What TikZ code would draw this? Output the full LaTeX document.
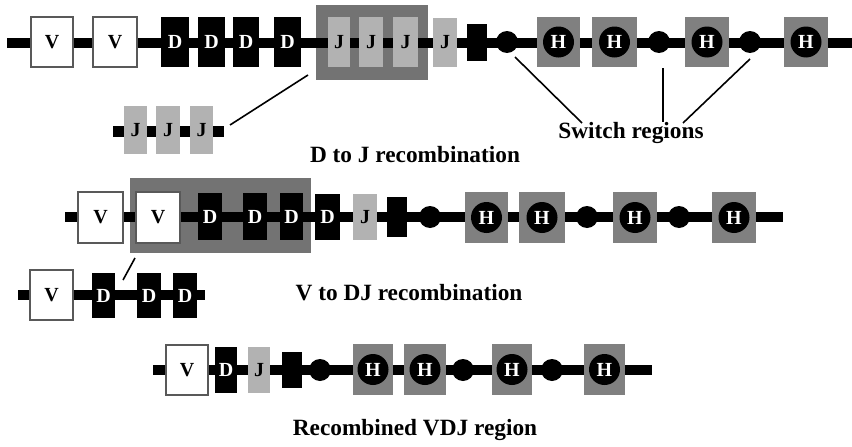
\documentclass[tikz,border=0pt]{standalone}
\usepackage{fontspec}
\setmainfont{Liberation Serif}
\begin{document}
\begin{tikzpicture}[x=1pt,y=-1pt,
  letter/.style={font=\bfseries\fontsize{20}{20}\selectfont, inner sep=0pt},
  vbox/.style={letter, draw=black!65, line width=1.2pt, fill=white, minimum height=50, text=black},
  dbox/.style={letter, fill=black, text=white, minimum height=48},
  jbox/.style={letter, fill=black!30, text=black, minimum height=48},
  blk/.style={fill=black, inner sep=0pt, minimum width=20, minimum height=37},
  swc/.style={circle, fill=black, inner sep=0pt, minimum size=22},
  hbox/.style={letter, fill=black!50, text=white, minimum height=50,
     path picture={\fill[black] (path picture bounding box.center) circle (15.5);}},
  grp/.style={fill=black!55, inner sep=0pt},
  backbone/.style={line width=10.5pt, black},
  conn/.style={line width=1.6pt, black},
  lab/.style={font=\bfseries\fontsize{23.3}{23.3}\selectfont, inner sep=0pt}
]
\useasboundingbox (0,0) rectangle (852,447);
% ---------- Row 1 ----------
\node[grp, minimum width=112, minimum height=75] (g1) at (372,42.5) {};
\coordinate (r1a) at (7,43); \coordinate (r1b) at (852,43);
\draw[backbone] (r1a) -- (r1b);
\node[vbox, minimum width=42] (v11) at (52,42) {V};
\node[vbox, minimum width=44] (v12) at (115,42) {V};
\node[dbox, minimum width=28, minimum height=50] (d11) at (175,42) {D};
\node[dbox, minimum width=27, minimum height=50] (d12) at (211.5,42) {D};
\node[dbox, minimum width=26, minimum height=50] (d13) at (246,42) {D};
\node[dbox, minimum width=27, minimum height=50] (d14) at (287.5,42) {D};
\node[jbox, minimum width=22, minimum height=50] (j11) at (339,42) {J};
\node[jbox, minimum width=24, minimum height=50] (j12) at (371,42) {J};
\node[jbox, minimum width=25, minimum height=50] (j13) at (405.5,42) {J};
\node[jbox, minimum width=24, minimum height=49] (j14) at (445,42.5) {J};
\node[blk] (b1) at (477,42.5) {};
\node[swc] (s11) at (507,42) {};
\node[hbox, minimum width=43] (h11) at (558.5,42) {H};
\node[hbox, minimum width=45] (h12) at (614.5,42) {H};
\node[swc] (s12) at (659,42) {};
\node[hbox, minimum width=44] (h13) at (707,42) {H};
\node[swc] (s13) at (750,42) {};
\node[hbox, minimum width=44] (h14) at (806,42) {H};
% small J group
\coordinate (sja) at (113,131.5); \coordinate (sjb) at (224,131.5);
\draw[backbone] (sja) -- (sjb);
\node[jbox, minimum width=23] (sj1) at (135.5,130) {J};
\node[jbox, minimum width=24] (sj2) at (168,130) {J};
\node[jbox, minimum width=23] (sj3) at (201.5,130) {J};
\coordinate (c1a) at (230,125); \coordinate (c1b) at (308,75);
\draw[conn] (c1a) -- (c1b);
\node[lab] (lDJ) at (415,155) {D to J recombination};
% switch regions
\node[lab] (lsw) at (631,133) {Switch regions};
\coordinate (sw1a) at (515,57); \coordinate (sw1b) at (582,123);
\coordinate (sw2a) at (663,68); \coordinate (sw2b) at (663,122);
\coordinate (sw3a) at (750,59); \coordinate (sw3b) at (683,123);
\draw[conn] (sw1a) -- (sw1b);
\draw[conn, line width=1.2pt] (sw2a) -- (sw2b);
\draw[conn] (sw3a) -- (sw3b);
% ---------- Row 2 ----------
\node[grp, minimum width=181, minimum height=75] (g2) at (220.5,215.5) {};
\coordinate (r2a) at (65,217); \coordinate (r2b) at (783,217);
\draw[backbone] (r2a) -- (r2b);
\node[vbox, minimum width=45, minimum height=51] (v21) at (100.5,217.5) {V};
\node[vbox, minimum width=44, minimum height=51] (v22) at (158,217.5) {V};
\node[dbox, minimum width=24, minimum height=47] (d21) at (210,216.5) {D};
\node[dbox, minimum width=24, minimum height=47] (d22) at (255,216.5) {D};
\node[dbox, minimum width=23, minimum height=47] (d23) at (291.5,216.5) {D};
\node[dbox, minimum width=25, minimum height=46] (d24) at (327.5,217) {D};
\node[jbox, minimum width=24, minimum height=46] (j21) at (365,217) {J};
\node[blk, minimum height=40] (b2) at (397,217) {};
\node[swc] (s21) at (430,217) {};
\node[hbox, minimum width=43, minimum height=51] (h21) at (486.5,217.5) {H};
\node[hbox, minimum width=46, minimum height=51] (h22) at (542,217.5) {H};
\node[swc] (s22) at (587,217) {};
\node[hbox, minimum width=44, minimum height=51] (h23) at (635,217.5) {H};
\node[swc] (s23) at (679,217) {};
\node[hbox, minimum width=44, minimum height=51] (h24) at (734,217.5) {H};
% small V D group
\coordinate (svda) at (18,295); \coordinate (svdb) at (205,295);
\draw[backbone] (svda) -- (svdb);
\node[vbox, minimum width=43] (sv) at (51.5,295) {V};
\node[dbox, minimum width=23, minimum height=45] (sd1) at (103.5,295.5) {D};
\node[dbox, minimum width=24, minimum height=45] (sd2) at (149,295.5) {D};
\node[dbox, minimum width=24, minimum height=45] (sd3) at (185,295.5) {D};
\coordinate (c2a) at (135,258); \coordinate (c2b) at (123,280);
\draw[conn] (c2a) -- (c2b);
\node[lab] (lVDJ) at (409,293) {V to DJ recombination};
% ---------- Row 3 ----------
\coordinate (r3a) at (153,370); \coordinate (r3b) at (652,370);
\draw[backbone] (r3a) -- (r3b);
\node[vbox, minimum width=42] (v31) at (187,370) {V};
\node[dbox, minimum width=22, minimum height=46] (d31) at (226,370) {D};
\node[jbox, minimum width=22, minimum height=46] (j31) at (259,370) {J};
\node[blk, minimum height=36] (b3) at (292,370) {};
\node[swc] (s31) at (320,370) {};
\node[hbox, minimum width=40, minimum height=51] (h31) at (373,369.5) {H};
\node[hbox, minimum width=42, minimum height=51] (h32) at (425,369.5) {H};
\node[swc] (s32) at (463,370) {};
\node[hbox, minimum width=40, minimum height=51] (h33) at (512,369.5) {H};
\node[swc] (s33) at (552,370) {};
\node[hbox, minimum width=41, minimum height=51] (h34) at (604.5,369.5) {H};
\node[lab] (lrec) at (415,430) {Recombined VDJ region};
\end{tikzpicture}
\end{document}
